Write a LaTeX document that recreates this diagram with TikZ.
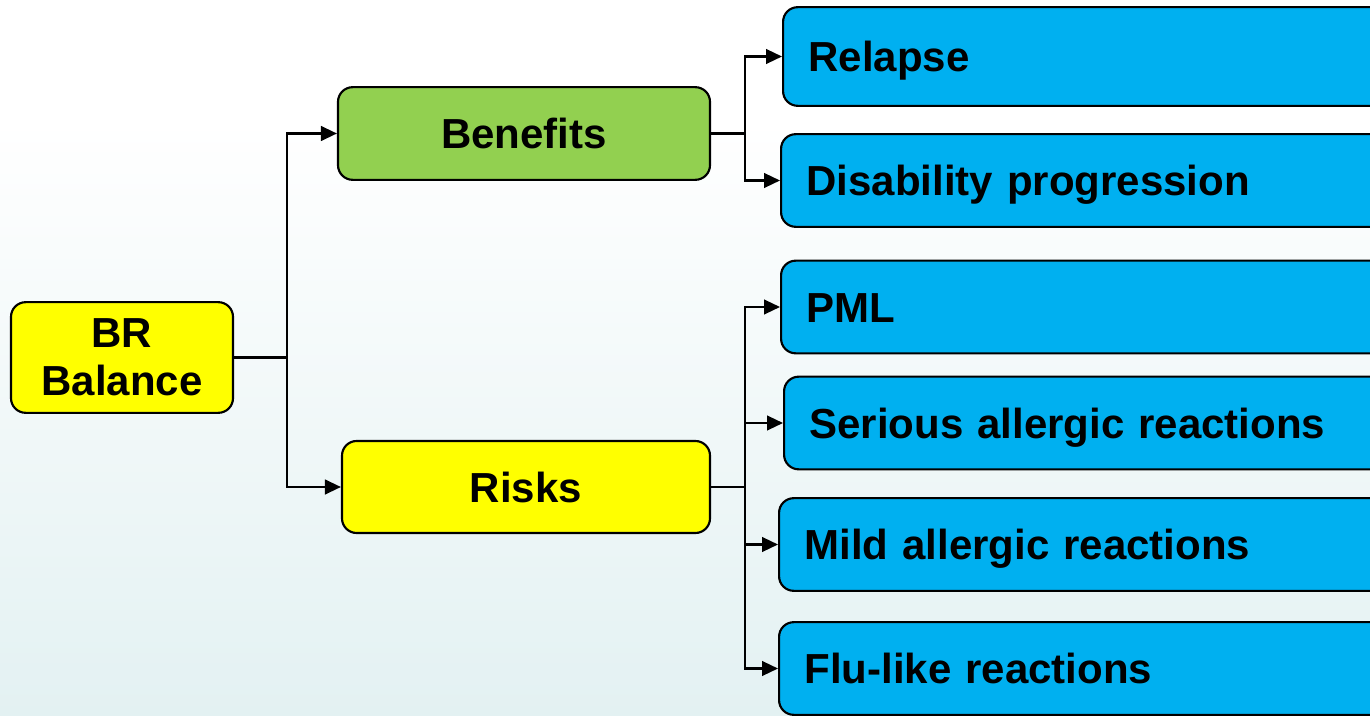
\documentclass[tikz,border=0pt]{standalone}
\usepackage{fontspec}
\setmainfont{Liberation Sans}
\usetikzlibrary{arrows.meta}
\definecolor{leafblue}{HTML}{00B0F0}
\definecolor{bengreen}{HTML}{92D050}
\definecolor{riskyellow}{HTML}{FFFF00}
\definecolor{bgbottom}{HTML}{E3F1F2}
\begin{document}
\begin{tikzpicture}[x=0.75pt,y=-0.75pt,
  box/.style={draw=black, line width=1.6pt, rounded corners=11pt,
    font=\fontsize{31.5}{36}\selectfont\bfseries, align=center, inner sep=0pt},
  oneline/.style={box, text height=22.7pt, text depth=0pt},
  leaf/.style={oneline, fill=leafblue, anchor=west, minimum height=69.5pt,
    text width=430pt, align=left, inner xsep=19pt},
  link/.style={line width=1.7pt, -{Triangle[length=12pt,width=11pt]}},
  trunk/.style={line width=1.7pt}]
  % canvas and soft vertical background
  \useasboundingbox (0,0) rectangle (1370,716);
  \clip (0,0) rectangle (1370,716);
  \fill[white] (0,0) rectangle (1370,120);
  \shade[top color=white, bottom color=bgbottom] (0,120) rectangle (1370,716);

  % root and first level
  \node[box, fill=riskyellow, minimum width=166.5pt, minimum height=83pt]
    (br) at (122,357.5) {BR\\Balance};
  \node[oneline, fill=bengreen, minimum width=279pt, minimum height=69.5pt]
    (ben) at (524,133.5) {Benefits};
  \node[oneline, fill=riskyellow, minimum width=276pt, minimum height=69pt]
    (risk) at (526,487) {Risks};

  % outcome boxes (running past the right edge)
  \node[leaf, minimum height=74pt] (relapse) at (782,56.5) {Relapse};
  \node[leaf] (disab)   at (780,180.5) {Disability progression};
  \node[leaf] (pml)     at (780,307)   {PML};
  \node[leaf] (serious) at (783,423)   {Serious allergic reactions};
  \node[leaf] (mild)    at (778,544.5) {Mild allergic reactions};
  \node[leaf] (flu)     at (778,668.5) {Flu-like reactions};

  % branch junctions
  \coordinate (j0) at (287,357.5);
  \coordinate (j1) at (745,133.5);
  \coordinate (j2) at (745,487);

  % root to first level
  \draw[trunk] (br.east) -- (j0);
  \draw[link] (j0) |- (ben.west);
  \draw[link] (j0) |- (risk.west);

  % benefits to outcomes
  \draw[trunk] (ben.east) -- (j1);
  \draw[link] (j1) |- (relapse.west);
  \draw[link] (j1) |- (disab.west);

  % risks to outcomes
  \draw[trunk] (risk.east) -- (j2);
  \draw[link] (j2) |- (pml.west);
  \draw[link] (j2) |- (serious.west);
  \draw[link] (j2) |- (mild.west);
  \draw[link] (j2) |- (flu.west);
\end{tikzpicture}
\end{document}
